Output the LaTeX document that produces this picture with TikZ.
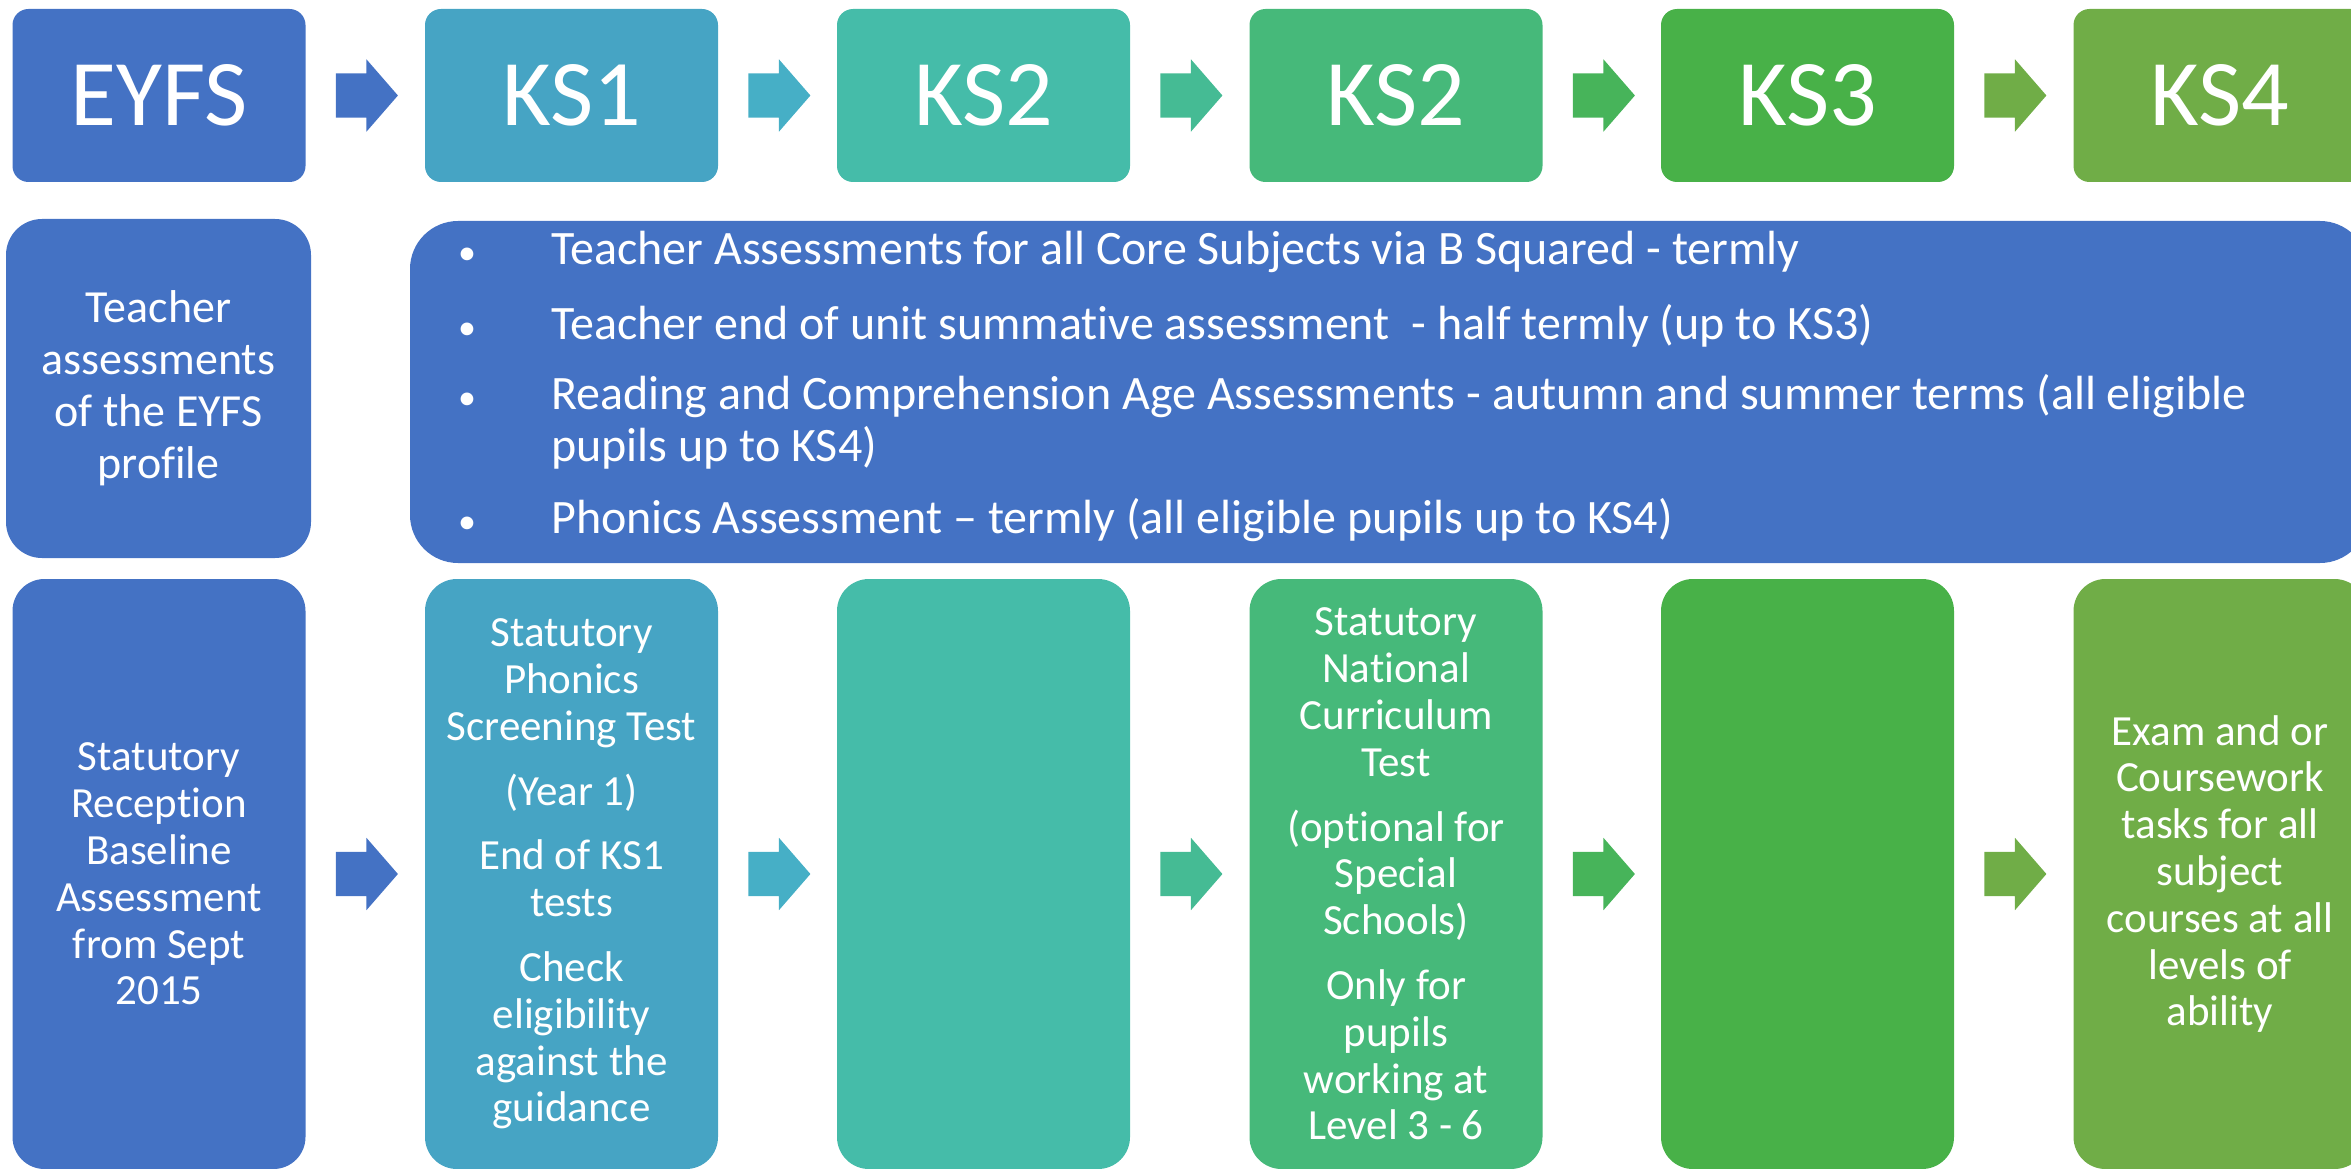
\documentclass[tikz,border=0pt]{standalone}
\usepackage{fontspec}
\setmainfont{Carlito}[Ligatures={TeX,NoCommon}]
\usetikzlibrary{positioning,shapes.arrows}

\definecolor{eyfsblue}{HTML}{4472C4}
\definecolor{ksone}{HTML}{46A4C4}
\definecolor{kstwo}{HTML}{45BCA9}
\definecolor{kstwob}{HTML}{46B97A}
\definecolor{ksthree}{HTML}{48B148}
\definecolor{ksfour}{HTML}{70AD47}
\definecolor{arrtwo}{HTML}{46AFC6}
\definecolor{arrthree}{HTML}{45BB94}
\definecolor{arrfour}{HTML}{47B45A}

\begin{document}
\begin{tikzpicture}[x=1pt,y=-1pt,
        stage/.style={fill=#1, rounded corners=16pt, minimum width=293pt, minimum height=173pt,
            inner sep=0pt, text=white, font=\fontsize{94}{100}\selectfont},
        panel/.style={fill=eyfsblue, inner sep=0pt, text=white, align=center,
            font=\fontsize{46}{52}\selectfont},
        testbox/.style={fill=#1, rounded corners=32pt, minimum width=293pt, minimum height=590pt,
            inner sep=0pt, text=white, align=center, font=\fontsize{43}{46.8}\selectfont},
        flow/.style={single arrow, fill=#1, draw=none, inner xsep=0pt, inner ysep=22pt,
            minimum height=62pt, single arrow head extend=14pt, single arrow tip angle=98}]
    \useasboundingbox (0,0) rectangle (2351,1169);

    % key stages
    \node[stage=eyfsblue] (eyfs) at (159,95.5) {EYFS};
    \node[stage=ksone] (ksa) at (571.5,95.5) {KS1};
    \node[stage=kstwo] (ksb) at (983.5,95.5) {KS2};
    \node[stage=kstwob] (ksbb) at (1396,95.5) {KS2};
    \node[stage=ksthree] (ksc) at (1807.5,95.5) {KS3};
    \node[stage=ksfour] (ksd) at (2220,95.5) {KS4};

    \node[flow=eyfsblue, right=30pt of eyfs] (fa) {};
    \node[flow=arrtwo, right=30pt of ksa] (fb) {};
    \node[flow=arrthree, right=30pt of ksb] (fc) {};
    \node[flow=arrfour, right=30pt of ksbb] (fd) {};
    \node[flow=ksfour, right=30pt of ksc] (fe) {};

    % teacher assessments
    \node[panel, rounded corners=36pt, minimum width=305pt, minimum height=339pt] (eyfsteach) at (158.5,388.5)
        {Teacher\\assessments\\of the EYFS\\profile};
    \node[panel, rounded corners=48pt, minimum width=1958pt, minimum height=342pt] (allteach) at (1389,392) {};
    \node[anchor=base west, inner sep=0pt, text=white, font=\fontsize{48}{52}\selectfont] (bullets) at (458,265)
        {\begin{tabular}[t]{@{}p{93pt}@{}l@{}}
            {\fontsize{36}{36}\selectfont\textbullet} & Teacher Assessments for all Core Subjects via B Squared - termly\\[23pt]
            {\fontsize{36}{36}\selectfont\textbullet} & Teacher end of unit summative assessment \ - half termly (up to KS3)\\[18pt]
            {\fontsize{36}{36}\selectfont\textbullet} & Reading and Comprehension Age Assessments - autumn and summer terms (all eligible\\
                        & pupils up to KS4)\\[20pt]
            {\fontsize{36}{36}\selectfont\textbullet} & Phonics Assessment -- termly (all eligible pupils up to KS4)
        \end{tabular}};

    % tests
    \node[testbox=eyfsblue] (eyfstest) at (159,874)
        {Statutory\\Reception\\Baseline\\Assessment\\from Sept\\2015};
    \node[testbox=ksone] (ksatest) at (571.5,874)
        {Statutory\\Phonics\\Screening Test\\[18pt](Year 1)\\[18pt]End of KS1\\tests\\[18pt]Check\\eligibility\\against the\\guidance};
    \node[testbox=kstwo] (ksbtest) at (983.5,874) {};
    \node[testbox=kstwob] (ksbbtest) at (1396,874)
        {Statutory\\National\\Curriculum\\Test\\[18pt](optional for\\Special\\Schools)\\[18pt]Only for\\pupils\\working at\\Level 3 - 6};
    \node[testbox=ksthree] (ksctest) at (1807.5,874) {};
    \node[testbox=ksfour] (ksdtest) at (2220,874)
        {Exam and or\\Coursework\\tasks for all\\subject\\courses at all\\levels of\\ability};

    \node[flow=eyfsblue, right=30pt of eyfstest] (ga) {};
    \node[flow=arrtwo, right=30pt of ksatest] (gb) {};
    \node[flow=arrthree, right=30pt of ksbtest] (gc) {};
    \node[flow=arrfour, right=30pt of ksbbtest] (gd) {};
    \node[flow=ksfour, right=30pt of ksctest] (ge) {};
\end{tikzpicture}
\end{document}
